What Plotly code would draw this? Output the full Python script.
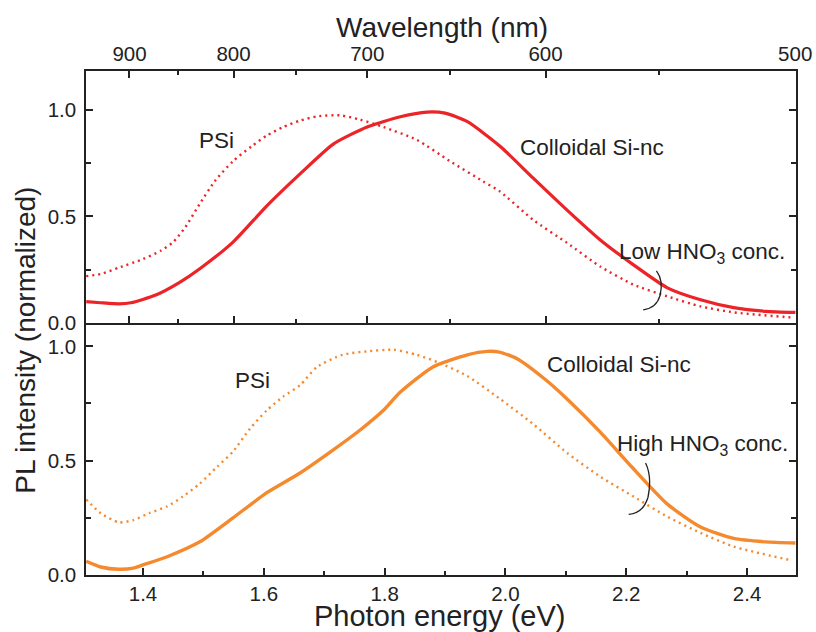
import plotly.graph_objects as go

# ---------------- data ----------------
# Top panel: low HNO3 concentration
low_colloidal_E = [1.306, 1.33, 1.36, 1.38, 1.42, 1.46, 1.494, 1.549, 1.605, 1.66, 1.715, 1.771,
                   1.826, 1.87, 1.90, 1.937, 1.991, 2.046, 2.102, 2.157, 2.212, 2.268, 2.323,
                   2.378, 2.43, 2.48]
low_colloidal_I = [0.10, 0.095, 0.09, 0.095, 0.13, 0.19, 0.255, 0.38, 0.55, 0.70, 0.84, 0.92,
                   0.968, 0.99, 0.985, 0.945, 0.83, 0.68, 0.53, 0.39, 0.273, 0.165, 0.109,
                   0.072, 0.055, 0.05]

low_psi_E = [1.306, 1.33, 1.36, 1.40, 1.43, 1.45, 1.47, 1.494, 1.52, 1.549, 1.58, 1.605, 1.632,
             1.66, 1.688, 1.726, 1.759, 1.798, 1.853, 1.908, 1.963, 1.991, 2.046, 2.102, 2.157,
             2.212, 2.268, 2.323, 2.378, 2.477]
low_psi_I = [0.22, 0.23, 0.26, 0.30, 0.34, 0.38, 0.45, 0.56, 0.67, 0.76, 0.83, 0.88, 0.92,
             0.95, 0.97, 0.975, 0.955, 0.92, 0.86, 0.76, 0.665, 0.617, 0.484, 0.376, 0.265,
             0.18, 0.125, 0.078, 0.05, 0.025]

# Bottom panel: high HNO3 concentration
high_colloidal_E = [1.306, 1.33, 1.36, 1.384, 1.40, 1.44, 1.494, 1.549, 1.605, 1.66, 1.715, 1.76,
                    1.798, 1.826, 1.88, 1.937, 1.97, 1.99, 2.02, 2.066, 2.102, 2.157, 2.21, 2.268,
                    2.323, 2.378, 2.43, 2.48]
high_colloidal_I = [0.06, 0.035, 0.025, 0.03, 0.044, 0.08, 0.145, 0.25, 0.36, 0.446, 0.547, 0.635,
                    0.72, 0.80, 0.91, 0.963, 0.978, 0.975, 0.945, 0.855, 0.77, 0.625, 0.47, 0.31,
                    0.21, 0.16, 0.145, 0.14]

high_psi_E = [1.306, 1.33, 1.36, 1.384, 1.41, 1.44, 1.466, 1.494, 1.523, 1.549, 1.577, 1.605,
              1.632, 1.66, 1.688, 1.73, 1.771, 1.815, 1.853, 1.89, 1.937, 1.991, 2.046, 2.102,
              2.157, 2.212, 2.268, 2.323, 2.378, 2.47]
high_psi_I = [0.33, 0.27, 0.23, 0.24, 0.27, 0.30, 0.343, 0.40, 0.474, 0.54, 0.64, 0.72,
              0.78, 0.83, 0.91, 0.963, 0.978, 0.985, 0.963, 0.928, 0.87, 0.77, 0.66, 0.534,
              0.43, 0.343, 0.255, 0.184, 0.124, 0.066]

energy_ticks = [1.4, 1.6, 1.8, 2.0, 2.2, 2.4]
wavelength_ticks = [900, 800, 700, 600, 500]
wavelength_minor = [850, 750, 650, 550]
intensity_ticks = [0.0, 0.5, 1.0]

HC = 1239.84  # eV*nm
wl_pos = [HC / w for w in wavelength_ticks]
wl_minor_pos = [HC / w for w in wavelength_minor]

RED = "#ec2327"
ORANGE = "#f5892e"
FONT = "Liberation Sans, Arial, sans-serif"
XR = [1.3056, 2.481]

fig = go.Figure()
fig.add_trace(go.Scatter(x=low_psi_E, y=low_psi_I, mode="lines",
                         line=dict(color=RED, width=2.4, dash="2px,4px", shape="spline", smoothing=0.6),
                         xaxis="x2", yaxis="y2", showlegend=False))
fig.add_trace(go.Scatter(x=low_colloidal_E, y=low_colloidal_I, mode="lines",
                         line=dict(color=RED, width=3.2, shape="spline", smoothing=0.6),
                         xaxis="x2", yaxis="y2", showlegend=False))
fig.add_trace(go.Scatter(x=high_psi_E, y=high_psi_I, mode="lines",
                         line=dict(color=ORANGE, width=2.4, dash="2px,4px", shape="spline", smoothing=0.6),
                         xaxis="x", yaxis="y", showlegend=False))
fig.add_trace(go.Scatter(x=high_colloidal_E, y=high_colloidal_I, mode="lines",
                         line=dict(color=ORANGE, width=3.4, shape="spline", smoothing=0.6),
                         xaxis="x", yaxis="y", showlegend=False))
# invisible carrier so the top wavelength axis is drawn
fig.add_trace(go.Scatter(x=wl_pos, y=[None] * len(wl_pos), mode="lines", xaxis="x3", yaxis="y2",
                         hoverinfo="skip", showlegend=False))

axis_common = dict(showline=True, linecolor="#222", linewidth=1.5, showgrid=False, zeroline=False,
                   automargin=False,
                   tickfont=dict(family=FONT, size=20.5, color="#222"), tickcolor="#222")

fig.update_layout(
    width=816, height=632,
    margin=dict(l=86, r=20, t=71, b=57, autoexpand=False),
    plot_bgcolor="white", paper_bgcolor="white",
    xaxis=dict(**axis_common, range=XR, domain=[0, 1], anchor="y",
               tickvals=energy_ticks, ticktext=[f"{v:.1f}" for v in energy_ticks],
               ticks="inside", ticklen=7, tickwidth=1.5, ticklabelstandoff=0,
               minor=dict(dtick=0.1, tick0=1.3, ticks="inside", ticklen=4, tickwidth=1.5, tickcolor="#222")),
    xaxis2=dict(**axis_common, range=XR, domain=[0, 1], anchor="y2", showticklabels=False, ticks=""),
    xaxis3=dict(**axis_common, range=XR, domain=[0, 1], overlaying="x2", anchor="y2", side="top",
                mirror="ticks",
                tickmode="array", tickvals=wl_pos, ticktext=[str(w) for w in wavelength_ticks],
                ticks="inside", ticklen=7, tickwidth=1.5, ticklabelstandoff=0,
                minor=dict(tickmode="array", tickvals=wl_minor_pos, ticks="inside", ticklen=4,
                           tickwidth=1.5, tickcolor="#222")),
    yaxis=dict(**axis_common, range=[0, 1.102], domain=[0, 0.5], anchor="x", mirror="ticks",
               tickvals=intensity_ticks, ticktext=[f"{v:.1f}" for v in intensity_ticks],
               ticks="inside", ticklen=7, tickwidth=1.5, ticklabelstandoff=4,
               minor=dict(dtick=0.25, ticks="inside", ticklen=5, tickwidth=1.5, tickcolor="#222")),
    yaxis2=dict(**axis_common, range=[0, 1.183], domain=[0.5, 1], anchor="x2", mirror="ticks",
                tickvals=intensity_ticks, ticktext=[f"{v:.1f}" for v in intensity_ticks],
                ticks="inside", ticklen=7, tickwidth=1.5, ticklabelstandoff=4,
                minor=dict(dtick=0.25, ticks="inside", ticklen=5, tickwidth=1.5, tickcolor="#222")),
)

txt = dict(family=FONT, size=22.5, color="#222")
ann = []
ann.append(dict(text="Wavelength (nm)", xref="paper", yref="paper", x=0.502, y=1.0, yshift=44,
                xanchor="center", yanchor="middle", showarrow=False, font=dict(family=FONT, size=28, color="#222")))
ann.append(dict(text="Photon energy (eV)", xref="paper", yref="paper", x=0.498, y=0.0, yshift=-41,
                xanchor="center", yanchor="middle", showarrow=False, font=dict(family=FONT, size=29, color="#222")))
ann.append(dict(text="PL intensity (normalized)", xref="paper", yref="paper", x=0.0, xshift=-60, y=0.465,
                xanchor="center", yanchor="middle", textangle=-90, showarrow=False,
                font=dict(family=FONT, size=28, color="#222")))
ann.append(dict(text="PSi", x=1.521, y=0.859, xref="x2", yref="y2", showarrow=False, font=txt))
ann.append(dict(text="Colloidal Si-nc", x=2.020, y=0.822, xref="x2", yref="y2", xanchor="left", showarrow=False, font=txt))
ann.append(dict(text="Low HNO<sub>3</sub> conc.", x=2.185, y=0.33, xref="x2", yref="y2", xanchor="left", showarrow=False, font=txt))
ann.append(dict(text="PSi", x=1.581, y=0.85, xref="x", yref="y", showarrow=False, font=txt))
ann.append(dict(text="Colloidal Si-nc", x=2.066, y=0.92, xref="x", yref="y", xanchor="left", showarrow=False, font=txt))
ann.append(dict(text="High HNO<sub>3</sub> conc.", x=2.182, y=0.57, xref="x", yref="y", xanchor="left", showarrow=False, font=txt))
fig.update_layout(annotations=ann)

shapes = [
    dict(type="path", xref="x2", yref="y2",
         path="M 2.250,0.245 Q 2.262,0.20 2.256,0.13 Q 2.250,0.07 2.228,0.062",
         line=dict(color="#222", width=1.3)),
    dict(type="path", xref="x", yref="y",
         path="M 2.232,0.49 Q 2.243,0.43 2.236,0.34 Q 2.228,0.27 2.204,0.265",
         line=dict(color="#222", width=1.3)),
]
fig.update_layout(shapes=shapes)

fig.write_html("out.html")
